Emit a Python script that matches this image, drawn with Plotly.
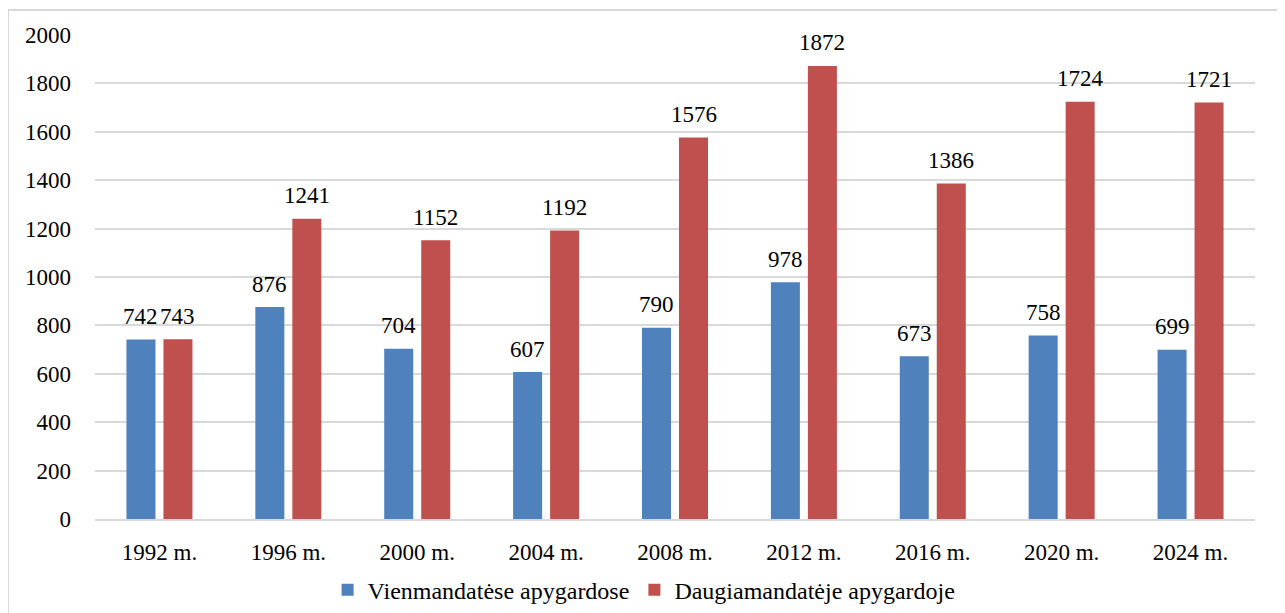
import plotly.graph_objects as go

categories = ["1992 m.", "1996 m.", "2000 m.", "2004 m.", "2008 m.", "2012 m.", "2016 m.", "2020 m.", "2024 m."]
vienmandates = [742, 876, 704, 607, 790, 978, 673, 758, 699]
daugiamandate = [743, 1241, 1152, 1192, 1576, 1872, 1386, 1724, 1721]
series_names = ["Vienmandatėse apygardose", "Daugiamandatėje apygardoje"]
y_ticks = [0, 200, 400, 600, 800, 1000, 1200, 1400, 1600, 1800, 2000]

BLUE = "#4F81BD"
RED = "#C0504D"
FONT = "Times New Roman"

fig = go.Figure()
fig.add_trace(go.Bar(x=categories, y=vienmandates, name=series_names[0],
                     marker=dict(color=BLUE, line=dict(width=0))))
fig.add_trace(go.Bar(x=categories, y=daugiamandate, name=series_names[1],
                     marker=dict(color=RED, line=dict(width=0))))

annotations = []
for c, v in zip(categories, vienmandates):
    annotations.append(dict(x=c, y=v, text=str(v), showarrow=False, xshift=-18.5, yshift=23,
                            yanchor="middle", font=dict(family=FONT, size=23, color="#000000")))
for c, v in zip(categories, daugiamandate):
    annotations.append(dict(x=c, y=v, text=str(v), showarrow=False, xshift=18.5, yshift=23,
                            yanchor="middle", font=dict(family=FONT, size=23, color="#000000")))

fig.update_layout(
    width=1285, height=613,
    margin=dict(l=87, r=38, t=27, b=102, autoexpand=False),
    paper_bgcolor="white", plot_bgcolor="white",
    barmode="group", bargap=0.426, bargroupgap=0.216,
    font=dict(family=FONT, size=23, color="#000000"),
    showlegend=True,
    legend=dict(orientation="h", x=0.2005, xanchor="left", y=-0.147, yanchor="middle",
                font=dict(family=FONT, size=24, color="#000000"), itemwidth=30,
                traceorder="normal"),
    annotations=annotations,
    shapes=[
        dict(type="line", xref="paper", yref="paper", x0=-0.075, x1=1.1, y0=1.0517, y1=1.0517,
             line=dict(color="#d9d9d9", width=2)),
        dict(type="line", xref="paper", yref="paper", x0=-0.075, x1=-0.075, y0=1.0517, y1=-0.25,
             line=dict(color="#d9d9d9", width=2)),
    ],
)
fig.update_xaxes(showgrid=False, showline=True, linecolor="#d9d9d9", linewidth=2, automargin=False,
                 ticks="", ticklabelstandoff=11, tickfont=dict(family=FONT, size=23))
fig.update_yaxes(range=[0, 2000], tickvals=y_ticks, showgrid=True, gridcolor="#d9d9d9", gridwidth=1.5,
                 automargin=False, zeroline=False, showline=False, ticks="", ticklabelstandoff=23,
                 tickfont=dict(family=FONT, size=23))

fig.write_html("out.html")
